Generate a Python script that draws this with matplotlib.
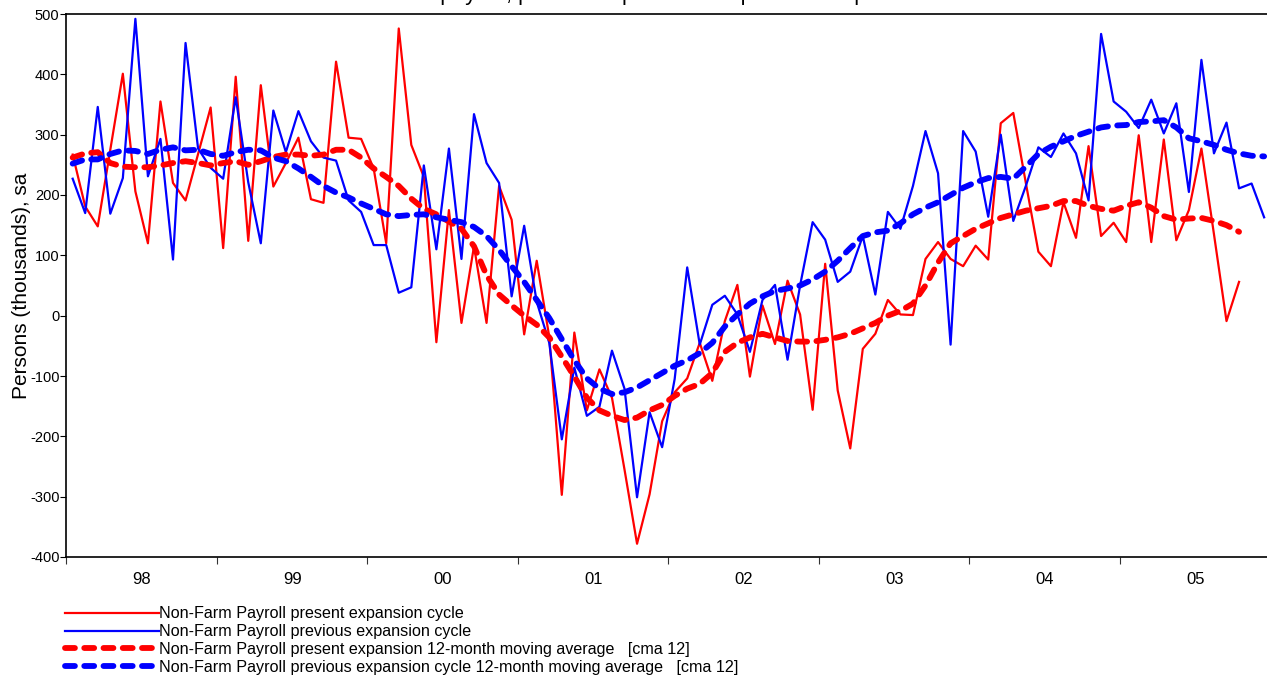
import matplotlib.pyplot as plt
import numpy as np

plt.rcParams['font.family'] = ['Liberation Sans', 'DejaVu Sans']
plt.rcParams['axes.unicode_minus'] = False

# Monthly values, Jan 98 .. Dec 05 (thousands, sa)
present = [267, 181, 148, 275, 401, 206, 120, 355, 220, 191, 268, 345,
           112, 396, 124, 382, 214, 253, 295, 193, 187, 421, 295, 293,
           244, 120, 476, 283, 230, -44, 175, -12, 115, -12, 215, 159,
           -31, 91, -35, -297, -28, -157, -89, -136, -255, -378, -296, -175,
           -127, -104, -45, -108, -9, 51, -101, 17, -47, 58, 2, -156,
           86, -124, -220, -55, -30, 26, 2, 1, 94, 122, 94, 82,
           116, 93, 319, 336, 220, 106, 82, 188, 129, 281, 132, 154,
           122, 299, 122, 292, 125, 175, 277, 135, -9, 56]
previous = [227, 170, 346, 169, 228, 492, 231, 293, 93, 452, 277, 245,
            227, 362, 221, 120, 340, 271, 339, 289, 262, 257, 191, 172,
            117, 117, 38, 47, 249, 110, 277, 94, 334, 253, 220, 32,
            149, 23, -45, -205, -86, -166, -151, -58, -121, -301, -160, -218,
            -105, 80, -48, 18, 33, 2, -60, 26, 51, -73, 50, 155,
            126, 56, 73, 132, 35, 172, 144, 215, 306, 236, -48, 306,
            272, 164, 300, 157, 215, 279, 263, 302, 269, 191, 467, 355,
            338, 311, 358, 302, 352, 205, 424, 269, 320, 211, 219, 163]
present_ma = [262, 269, 271, 253, 247, 246, 246, 249, 253, 256, 253, 249,
              253, 256, 250, 256, 263, 267, 267, 265, 267, 275, 275, 262,
              244, 230, 215, 194, 177, 168, 156, 144, 115, 67, 35, 17,
              0, -15, -36, -68, -101, -136, -157, -166, -173, -169, -157, -148,
              -133, -121, -113, -95, -60, -45, -36, -30, -36, -42, -43, -43,
              -40, -36, -30, -21, -12, 0, 8, 20, 50, 88, 120, 132,
              144, 153, 162, 168, 174, 178, 182, 190, 190, 182, 177, 174,
              182, 188, 179, 165, 159, 161, 162, 157, 150, 139]
previous_ma = [252, 259, 259, 268, 274, 273, 268, 275, 279, 274, 275, 268,
               265, 271, 275, 274, 262, 256, 244, 230, 215, 204, 196, 186,
               177, 168, 165, 167, 168, 163, 159, 155, 147, 132, 109, 82,
               56, 26, -4, -39, -74, -104, -121, -130, -127, -119, -107, -95,
               -83, -74, -62, -45, -18, 2, 20, 32, 41, 45, 50, 60,
               73, 91, 112, 132, 138, 141, 153, 168, 179, 188, 200, 212,
               221, 228, 230, 227, 247, 268, 280, 289, 298, 305, 312, 315,
               316, 321, 322, 324, 312, 294, 289, 283, 275, 269, 265, 264]
years = ['98', '99', '00', '01', '02', '03', '04', '05']

labels = ['Non-Farm Payroll present expansion cycle',
          'Non-Farm Payroll previous expansion cycle',
          'Non-Farm Payroll present expansion 12-month moving average   [cma 12]',
          'Non-Farm Payroll previous expansion cycle 12-month moving average   [cma 12]']

fig = plt.figure(figsize=(12.67, 6.79), dpi=100)
ax = fig.add_axes([66.4 / 1267, 1 - 557 / 679, 1204 / 1267, 543 / 679])

l1, = ax.plot(np.arange(len(present)), present, color='#ff0000', lw=1.6)
l2, = ax.plot(np.arange(len(previous)), previous, color='#0000ff', lw=1.6)
l3, = ax.plot(np.arange(len(present_ma)), present_ma, color='#ff0000', lw=4.2,
              dashes=(1.7, 1.6), dash_capstyle='round')
l4, = ax.plot(np.arange(len(previous_ma)), previous_ma, color='#0000ff', lw=4.2,
              dashes=(1.7, 1.6), dash_capstyle='round')

ax.set_xlim(-0.5, 95.5)
ax.set_ylim(-400, 500)
ax.set_yticks(np.arange(-400, 501, 100))
ax.tick_params(axis='y', labelsize=10.5, length=4, width=0.8, pad=1)

# year labels centred, boundary ticks as minor ticks
ax.set_xticks(np.arange(len(years)) * 12 + 5.5)
ax.set_xticklabels(years)
ax.set_xticks(np.arange(len(years)) * 12 - 0.5, minor=True)
ax.tick_params(axis='x', which='major', length=0, labelsize=12, pad=11)
ax.tick_params(axis='x', which='minor', length=5, width=0.8, color='#333333')

ax.spines['right'].set_visible(False)
for s in ['left', 'bottom', 'top']:
    ax.spines[s].set_linewidth(1.2)

ax.set_ylabel('Persons (thousands), sa', fontsize=15, labelpad=4)
ax.yaxis.set_label_coords(-0.029, 0.5)

# title sits above the image edge, only its descenders show
fig.text(0.5, 1.0, 'Non-Farm payroll, present expansion vs. previous expansion',
         ha='center', va='baseline', fontsize=16)

fig.legend([l1, l2, l3, l4], labels, loc='upper left',
           bbox_to_anchor=(59 / 1267, 1 - 600 / 679), frameon=False,
           fontsize=11.6, handlelength=5.8, handletextpad=0.0,
           labelspacing=0.17, borderaxespad=0)

plt.savefig('out.png', dpi=100)
